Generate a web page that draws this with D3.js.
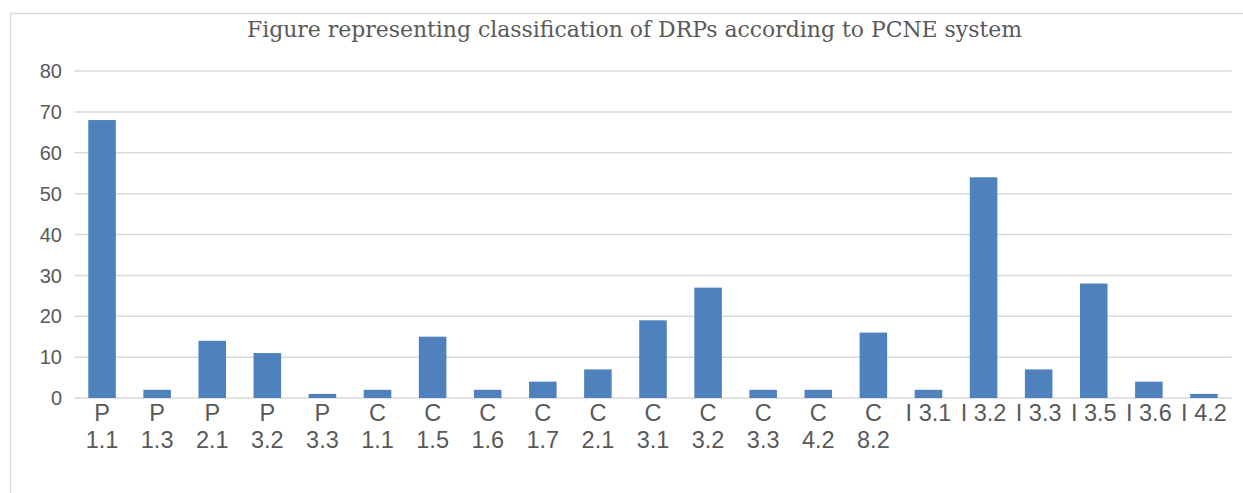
<!DOCTYPE html>
<html><head><meta charset="utf-8">
<script src="https://cdn.jsdelivr.net/npm/d3@7"></script>
<style>body{margin:0;background:#fff}svg{display:block}</style>
</head><body>
<svg id="c" width="1243" height="493"></svg>
<script>
const categories = ["P 1.1","P 1.3","P 2.1","P 3.2","P 3.3","C 1.1","C 1.5","C 1.6","C 1.7","C 2.1","C 3.1","C 3.2","C 3.3","C 4.2","C 8.2","I 3.1","I 3.2","I 3.3","I 3.5","I 3.6","I 4.2"];
const values = [68,2,14,11,1,2,15,2,4,7,19,27,2,2,16,2,54,7,28,4,1];
const yTicks = [0,10,20,30,40,50,60,70,80];
const title = "Figure representing classification of DRPs according to PCNE system";

(function(){
const svg = d3.select("#c");
const pL = 74.5, pR = 1231.5, pT = 71, pB = 398;

svg.append("rect").attr("x",10.5).attr("y",13.5).attr("width",1240).attr("height",490)
  .attr("fill","#fff").attr("stroke","#d9d9d9").attr("stroke-width",1.5);

const x = d3.scaleBand().domain(categories).range([pL,pR]).padding(0);
const y = d3.scaleLinear().domain([0,80]).range([pB,pT]);

svg.append("g").selectAll("line").data(yTicks).join("line")
  .attr("x1",pL).attr("x2",pR)
  .attr("y1",d=>y(d)).attr("y2",d=>y(d))
  .attr("stroke","#d9d9d9").attr("stroke-width",1.5);

svg.append("g").selectAll("text").data(yTicks).join("text")
  .attr("x",62).attr("y",d=>y(d)).attr("dy","0.36em")
  .attr("text-anchor","end").attr("fill","#595959")
  .style("font-family","'Liberation Sans', Arial, sans-serif").style("font-size","20px")
  .text(d=>d);

const bw = x.bandwidth()*0.5;
svg.append("g").selectAll("rect").data(values).join("rect")
  .attr("x",(d,i)=>x(categories[i])+x.bandwidth()/2-bw/2)
  .attr("width",bw)
  .attr("y",d=>y(d)).attr("height",d=>y(0)-y(d))
  .attr("fill","#4f81bd");

const xl = svg.append("g");
categories.forEach(c=>{
  const cx = x(c)+x.bandwidth()/2;
  const t = xl.append("text").attr("x",cx).attr("y",421)
    .attr("text-anchor","middle").attr("fill","#595959")
    .style("font-family","'Liberation Sans', Arial, sans-serif").style("font-size","23.5px")
    .text(c);
  if (t.node().getComputedTextLength() > 50) {
    const parts = c.split(" ");
    t.text(null);
    parts.forEach((p,k)=>t.append("tspan").attr("x",cx).attr("y",421+k*27).text(p));
  }
});

svg.append("text").attr("x",247).attr("y",37)
  .attr("fill","#595959")
  .attr("textLength",775).attr("lengthAdjust","spacingAndGlyphs")
  .style("font-family","'DejaVu Serif Condensed', 'DejaVu Serif', serif").style("font-size","23px")
  .text(title);
})();
</script>
</body></html>
